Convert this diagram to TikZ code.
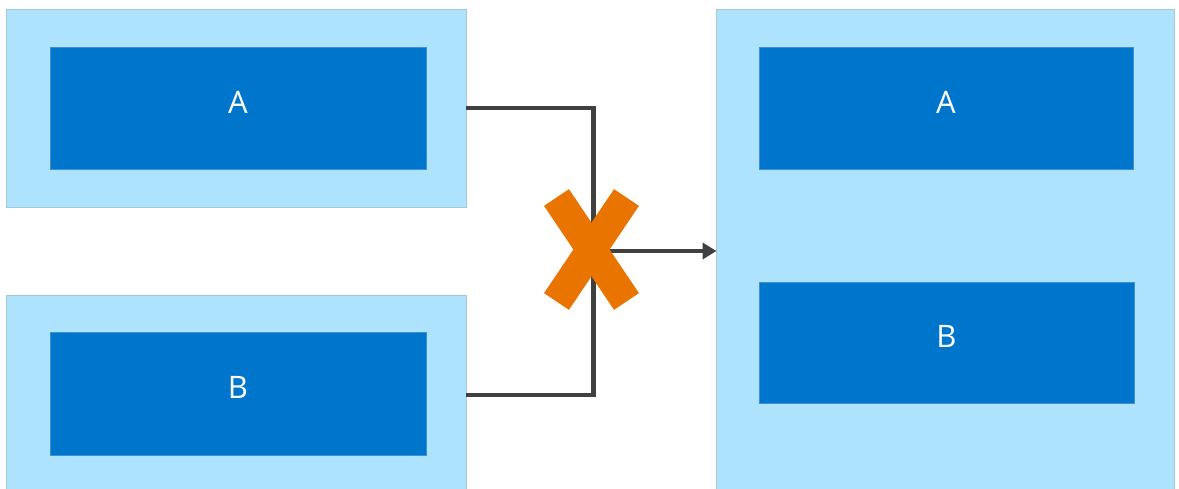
\documentclass[tikz,border=0pt]{standalone}
\usepackage{fontspec}
\setmainfont{Open Sans}
\usetikzlibrary{arrows.meta}
\definecolor{lightblue}{HTML}{ADE3FD}
\definecolor{lightedge}{HTML}{A8C8D8}
\definecolor{darkblue}{HTML}{0075CC}
\definecolor{darkedge}{HTML}{3F8FD8}
\definecolor{xorange}{HTML}{EA7400}
\definecolor{linegray}{HTML}{404040}
\begin{document}
\begin{tikzpicture}[x=1pt,y=-1pt,
  outerbox/.style={fill=lightblue,draw=lightedge,line width=0.6pt},
  innerbox/.style={fill=darkblue,draw=darkedge,line width=0.6pt,inner sep=0pt},
  lbl/.style={text=white,font=\fontsize{31}{36}\selectfont,inner sep=0pt},
  conn/.style={draw=linegray,line width=4.5pt}]
\useasboundingbox (0,0) rectangle (1179,488);
% left top
\path[outerbox] (6,9) rectangle (466,207);
\node[innerbox,minimum width=376pt,minimum height=122pt] (a1) at (238,108) {};
\node[lbl] (ta1) at ([yshift=6pt]a1.center) {A};
\coordinate (o1) at (466,108);
% left bottom
\path[outerbox] (6,295) rectangle (466,490);
\node[innerbox,minimum width=376pt,minimum height=123pt] (b1) at (238,393.5) {};
\node[lbl] (tb1) at ([yshift=6pt]b1.center) {B};
\coordinate (o2) at (466,395);
% right
\path[outerbox] (716.5,9) rectangle (1174,490);
\node[innerbox,minimum width=374pt,minimum height=122pt] (a2) at (946,108) {};
\node[lbl] (ta2) at ([yshift=6pt]a2.center) {A};
\node[innerbox,minimum width=375pt,minimum height=121pt] (b2) at (946.5,342.5) {};
\node[lbl] (tb2) at ([yshift=6pt]b2.center) {B};
\coordinate (t) at (716.5,251);
\coordinate (m) at (593.5,251);
% connectors
\draw[conn] (o1) -| (m);
\draw[conn] (o2) -| (m);
\draw[conn,-{Triangle[length=14pt,width=16pt]}] (m) -- (t);
% orange X
\node (xmark) at (591.5,249.5) {};
\draw[xorange,line width=30pt] (556.5,197.5) -- (626.5,301.5);
\draw[xorange,line width=30pt] (626.5,197.5) -- (556.5,301.5);
\end{tikzpicture}
\end{document}
